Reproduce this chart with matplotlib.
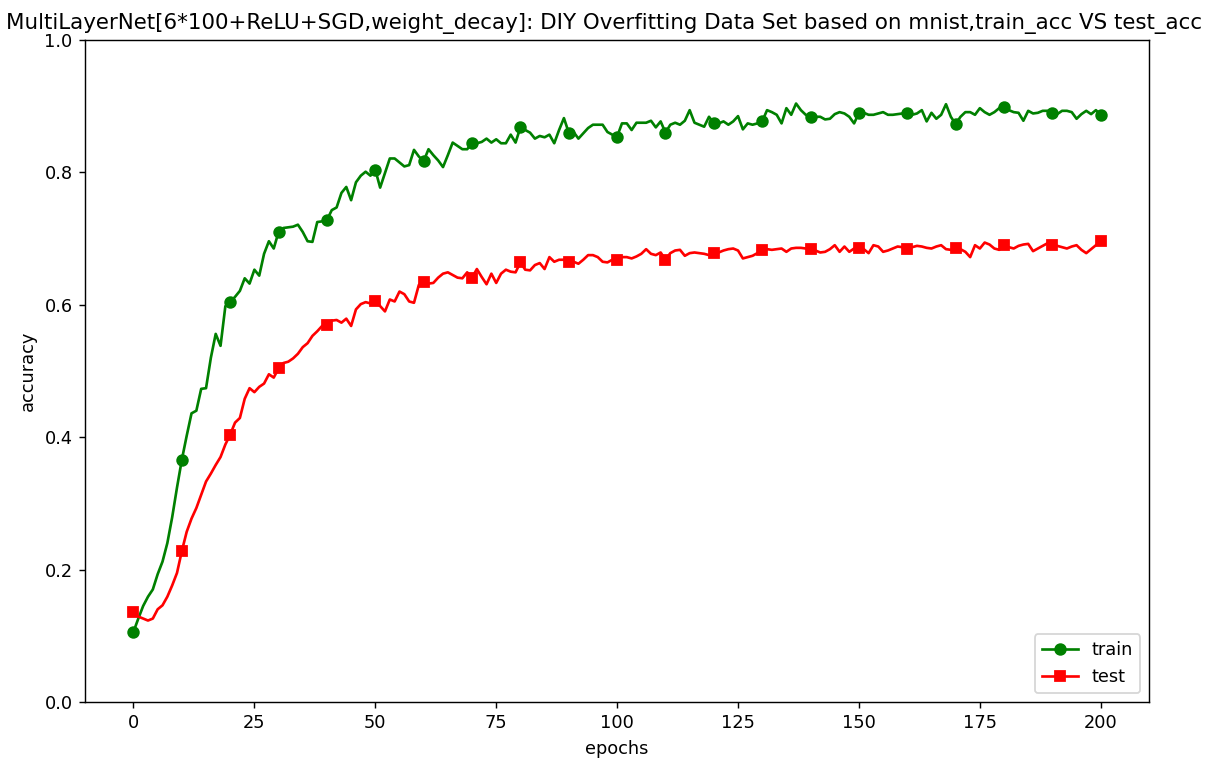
import numpy as np
import matplotlib
matplotlib.use("Agg")
import matplotlib.pyplot as plt

epochs = list(range(201))

train_acc = [
    0.106, 0.126, 0.145, 0.159, 0.170, 0.193, 0.212, 0.240, 0.279, 0.324,
    0.366, 0.402, 0.436, 0.440, 0.473, 0.474, 0.520, 0.556, 0.538, 0.598,
    0.604, 0.612, 0.621, 0.640, 0.632, 0.653, 0.644, 0.677, 0.696, 0.685,
    0.710, 0.716, 0.717, 0.718, 0.721, 0.710, 0.696, 0.695, 0.725, 0.726,
    0.728, 0.743, 0.747, 0.769, 0.778, 0.758, 0.785, 0.795, 0.801, 0.795,
    0.804, 0.777, 0.799, 0.821, 0.821, 0.815, 0.809, 0.811, 0.834, 0.824,
    0.817, 0.835, 0.826, 0.818, 0.808, 0.826, 0.845, 0.840, 0.835, 0.835,
    0.844, 0.844, 0.846, 0.851, 0.845, 0.850, 0.844, 0.844, 0.857, 0.845,
    0.868, 0.864, 0.860, 0.851, 0.855, 0.853, 0.857, 0.844, 0.864, 0.882,
    0.860, 0.861, 0.851, 0.859, 0.867, 0.872, 0.872, 0.872, 0.861, 0.857,
    0.854, 0.874, 0.874, 0.864, 0.875, 0.875, 0.875, 0.878, 0.868, 0.877,
    0.860, 0.872, 0.875, 0.872, 0.878, 0.894, 0.875, 0.872, 0.869, 0.884,
    0.874, 0.874, 0.877, 0.872, 0.877, 0.885, 0.865, 0.874, 0.872, 0.874,
    0.877, 0.894, 0.891, 0.887, 0.874, 0.897, 0.887, 0.904, 0.894, 0.887,
    0.884, 0.884, 0.884, 0.880, 0.881, 0.888, 0.891, 0.889, 0.884, 0.874,
    0.890, 0.890, 0.887, 0.887, 0.889, 0.891, 0.887, 0.887, 0.888, 0.889,
    0.890, 0.887, 0.889, 0.894, 0.877, 0.890, 0.881, 0.887, 0.903, 0.884,
    0.873, 0.884, 0.891, 0.891, 0.887, 0.897, 0.891, 0.887, 0.891, 0.897,
    0.899, 0.894, 0.891, 0.890, 0.878, 0.893, 0.889, 0.890, 0.893, 0.893,
    0.890, 0.888, 0.893, 0.893, 0.891, 0.881, 0.888, 0.893, 0.888, 0.894,
    0.887,
]

test_acc = [
    0.136, 0.129, 0.126, 0.123, 0.126, 0.140, 0.146, 0.159, 0.176, 0.195,
    0.228, 0.257, 0.277, 0.293, 0.313, 0.333, 0.345, 0.358, 0.370, 0.389,
    0.404, 0.422, 0.429, 0.458, 0.474, 0.468, 0.476, 0.481, 0.495, 0.490,
    0.504, 0.512, 0.514, 0.519, 0.526, 0.536, 0.542, 0.553, 0.560, 0.568,
    0.569, 0.576, 0.577, 0.573, 0.579, 0.568, 0.593, 0.601, 0.604, 0.602,
    0.606, 0.598, 0.590, 0.608, 0.605, 0.620, 0.616, 0.605, 0.603, 0.630,
    0.635, 0.632, 0.633, 0.641, 0.647, 0.649, 0.645, 0.641, 0.640, 0.649,
    0.641, 0.654, 0.642, 0.631, 0.647, 0.633, 0.647, 0.653, 0.650, 0.649,
    0.664, 0.653, 0.652, 0.660, 0.663, 0.654, 0.672, 0.665, 0.668, 0.668,
    0.664, 0.665, 0.662, 0.668, 0.675, 0.675, 0.672, 0.665, 0.664, 0.668,
    0.667, 0.672, 0.672, 0.670, 0.673, 0.677, 0.684, 0.677, 0.675, 0.679,
    0.668, 0.678, 0.682, 0.683, 0.674, 0.678, 0.679, 0.678, 0.677, 0.675,
    0.678, 0.679, 0.682, 0.684, 0.685, 0.682, 0.670, 0.672, 0.674, 0.678,
    0.683, 0.684, 0.683, 0.684, 0.685, 0.680, 0.685, 0.686, 0.686, 0.685,
    0.684, 0.682, 0.679, 0.680, 0.684, 0.690, 0.680, 0.688, 0.680, 0.685,
    0.686, 0.684, 0.678, 0.690, 0.688, 0.680, 0.682, 0.685, 0.688, 0.687,
    0.684, 0.687, 0.689, 0.688, 0.686, 0.685, 0.688, 0.690, 0.684, 0.683,
    0.686, 0.684, 0.680, 0.672, 0.690, 0.685, 0.694, 0.691, 0.685, 0.683,
    0.690, 0.687, 0.685, 0.689, 0.691, 0.692, 0.681, 0.685, 0.689, 0.693,
    0.690, 0.689, 0.687, 0.685, 0.688, 0.690, 0.683, 0.678, 0.684, 0.690,
    0.696,
]

title = ("MultiLayerNet[6*100+ReLU+SGD,weight_decay]: DIY Overfitting Data Set "
         "based on mnist,train_acc VS test_acc")

DPI = 128
fig = plt.figure(figsize=(1216 / DPI, 766 / DPI), dpi=DPI)
ax = fig.add_axes([0.070, 0.0836, 0.875, 0.8642])
ax.plot(epochs, train_acc, color="green", marker="o", markevery=10, label="train")
ax.plot(epochs, test_acc, color="red", marker="s", markevery=10, label="test")
ax.set_ylim(0, 1.0)
ax.set_xlabel("epochs")
ax.set_ylabel("accuracy")
ax.set_title(title, fontsize=12, x=0.488)
ax.legend(loc="lower right")
fig.savefig("out.png", dpi=DPI)
